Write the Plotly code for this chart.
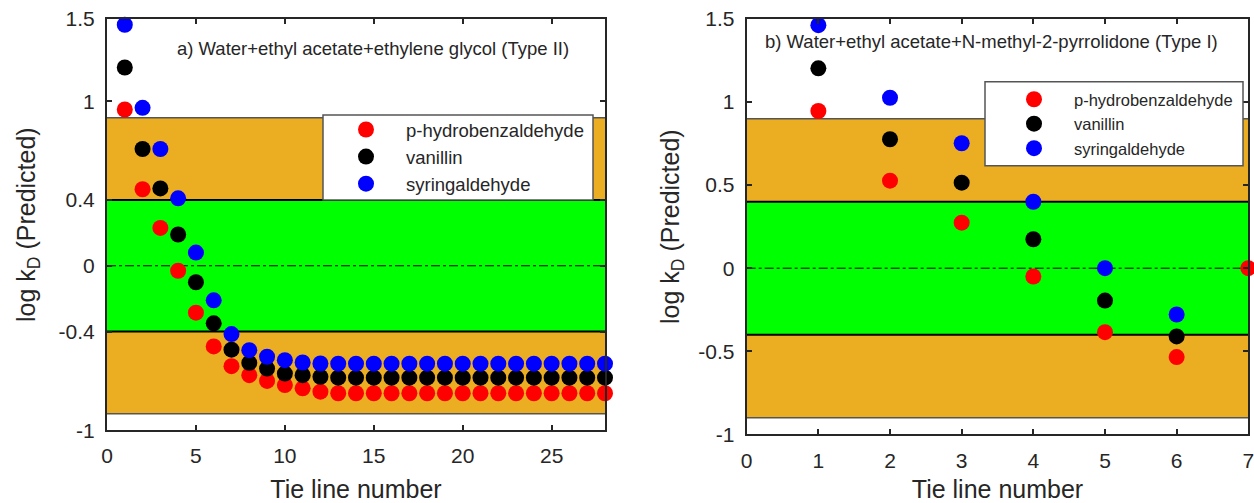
import plotly.graph_objects as go

# ---------------- data ----------------
series_names = ["p-hydrobenzaldehyde", "vanillin", "syringaldehyde"]
series_colors = ["#ff0000", "#000000", "#0000ff"]

tie_a = list(range(1, 29))
phb_a = [0.95, 0.465, 0.23, -0.03, -0.285, -0.49, -0.61, -0.665, -0.70, -0.725,
         -0.745, -0.765, -0.775, -0.775, -0.775, -0.775, -0.775, -0.775, -0.775, -0.775,
         -0.775, -0.775, -0.775, -0.775, -0.775, -0.775, -0.775, -0.775]
van_a = [1.205, 0.71, 0.47, 0.19, -0.10, -0.35, -0.51, -0.59, -0.625, -0.655,
         -0.665, -0.675, -0.68, -0.68, -0.68, -0.68, -0.68, -0.68, -0.68, -0.68,
         -0.68, -0.68, -0.68, -0.68, -0.68, -0.68, -0.68, -0.68]
syr_a = [1.465, 0.96, 0.71, 0.41, 0.08, -0.21, -0.415, -0.513, -0.553, -0.574,
         -0.588, -0.594, -0.595, -0.595, -0.595, -0.595, -0.595, -0.595, -0.595, -0.595,
         -0.595, -0.595, -0.595, -0.595, -0.595, -0.595, -0.595, -0.595]

tie_b_phb = [1, 2, 3, 4, 5, 6, 7]
phb_b = [0.946, 0.527, 0.274, -0.05, -0.385, -0.535, 0.0]
tie_b = [1, 2, 3, 4, 5, 6]
van_b = [1.203, 0.776, 0.515, 0.174, -0.195, -0.411]
syr_b = [1.463, 1.026, 0.752, 0.40, 0.0, -0.279]

title_a = "a) Water+ethyl acetate+ethylene glycol (Type II)"
title_b = "b) Water+ethyl acetate+N-methyl-2-pyrrolidone (Type I)"
xlabel = "Tie line number"
ylabel = "log k<sub>D</sub> (Predicted)"

ytick_a = [-1, -0.4, 0, 0.4, 1, 1.5]
ytick_b = [-1, -0.5, 0, 0.5, 1, 1.5]
xtick_a = [0, 5, 10, 15, 20, 25]
xtick_b = [0, 1, 2, 3, 4, 5, 6, 7]

# band limits
outer_hi, inner_hi, inner_lo, outer_lo = 0.9, 0.4, -0.4, -0.9

# ---------------- figure ----------------
W, H = 1254, 503
FONT = "Liberation Sans, Arial, sans-serif"
TXT = "#262626"
ORANGE = "#ebae22"
GREEN = "#00ff00"

fig = go.Figure()

def px_x(p):
    return p / W

def px_y(p):
    return 1 - p / H

groups = [
    ([phb_a, van_a, syr_a], [tie_a, tie_a, tie_a], "x", "y", "legend"),
    ([phb_b, van_b, syr_b], [tie_b_phb, tie_b, tie_b], "x2", "y2", "legend2"),
]
for vals, xs, xa, ya, lg in groups:
    for name, col, v, xv in zip(series_names, series_colors, vals, xs):
        fig.add_trace(go.Scatter(
            x=xv, y=v, mode="markers", name=name, legend=lg,
            marker=dict(color=col, size=16, line=dict(width=0)),
            cliponaxis=False, xaxis=xa, yaxis=ya,
        ))

shapes = []
for xr, yr in [("x", "y"), ("x2", "y2")]:
    dom = xr + " domain"
    shapes += [
        dict(type="rect", xref=dom, yref=yr, x0=0, x1=1, y0=inner_hi, y1=outer_hi,
             fillcolor=ORANGE, line=dict(width=0), layer="below"),
        dict(type="rect", xref=dom, yref=yr, x0=0, x1=1, y0=outer_lo, y1=inner_lo,
             fillcolor=ORANGE, line=dict(width=0), layer="below"),
        dict(type="rect", xref=dom, yref=yr, x0=0, x1=1, y0=inner_lo, y1=inner_hi,
             fillcolor=GREEN, line=dict(width=0), layer="below"),
        dict(type="line", xref=dom, yref=yr, x0=0, x1=1, y0=outer_hi, y1=outer_hi,
             line=dict(color="#555555", width=1.5), layer="below"),
        dict(type="line", xref=dom, yref=yr, x0=0, x1=1, y0=outer_lo, y1=outer_lo,
             line=dict(color="#555555", width=1.5), layer="below"),
        dict(type="line", xref=dom, yref=yr, x0=0, x1=1, y0=inner_hi, y1=inner_hi,
             line=dict(color="#000000", width=2), layer="below"),
        dict(type="line", xref=dom, yref=yr, x0=0, x1=1, y0=inner_lo, y1=inner_lo,
             line=dict(color="#000000", width=2), layer="below"),
        dict(type="line", xref=dom, yref=yr, x0=0, x1=1, y0=0, y1=0,
             line=dict(color="#000000", width=1, dash="dashdot"), layer="below"),
    ]
# legend frames (white boxes behind the legend entries)
for (x0, y0, x1, y1) in [(323, 115, 593, 200), (985, 81.7, 1243, 165.7)]:
    shapes.append(dict(type="rect", xref="paper", yref="paper",
                       x0=px_x(x0), x1=px_x(x1), y0=px_y(y1), y1=px_y(y0),
                       fillcolor="white", line=dict(color="#555555", width=1.5),
                       layer="above"))
fig.update_layout(shapes=shapes)

axis_common = dict(
    showline=True, linecolor=TXT, linewidth=2, mirror="ticks",
    ticks="inside", ticklen=5, tickwidth=1.5, tickcolor=TXT,
    showgrid=False, zeroline=False, ticklabeloverflow="allow", automargin=False,
    tickfont=dict(family=FONT, size=21, color=TXT),
)

legend_common = dict(
    xanchor="left", yanchor="top", bgcolor="rgba(0,0,0,0)", borderwidth=0,
    itemwidth=70, tracegroupgap=0,
)

fig.update_layout(
    width=W, height=H,
    margin=dict(l=0, r=0, t=0, b=0, autoexpand=False),
    paper_bgcolor="white", plot_bgcolor="white",
    font=dict(family=FONT, color=TXT),
    xaxis=dict(domain=[px_x(107), px_x(605)], range=[0, 28], anchor="y",
               tickvals=xtick_a, ticklabelstandoff=5,
               title=dict(text=xlabel, font=dict(size=25, color=TXT), standoff=22),
               **axis_common),
    yaxis=dict(domain=[px_y(430.3), px_y(19)], range=[-1, 1.5], anchor="x",
               tickvals=ytick_a, ticktext=[str(v) for v in ytick_a], ticklabelstandoff=6,
               title=dict(text=ylabel, font=dict(size=25, color=TXT), standoff=16),
               **axis_common),
    xaxis2=dict(domain=[px_x(746.7), px_x(1248.3)], range=[0, 7], anchor="y2",
                tickvals=xtick_b, ticklabelstandoff=6,
                title=dict(text=xlabel, font=dict(size=25, color=TXT), standoff=25),
                **axis_common),
    yaxis2=dict(domain=[px_y(434.3), px_y(19)], range=[-1, 1.5], anchor="x2",
                tickvals=ytick_b, ticktext=[str(v) for v in ytick_b], ticklabelstandoff=6,
                title=dict(text=ylabel, font=dict(size=25, color=TXT), standoff=12),
                **axis_common),
    legend=dict(x=px_x(326), y=px_y(111),
                font=dict(family=FONT, size=18.5, color=TXT), **legend_common),
    legend2=dict(x=px_x(994), y=px_y(82),
                 font=dict(family=FONT, size=16.5, color=TXT), **legend_common),
    annotations=[
        dict(text=title_a, xref="paper", yref="paper", x=px_x(175), y=px_y(48),
             xanchor="left", yanchor="middle", showarrow=False,
             font=dict(family=FONT, size=18.5, color=TXT)),
        dict(text=title_b, xref="paper", yref="paper", x=px_x(763), y=px_y(42),
             xanchor="left", yanchor="middle", showarrow=False,
             font=dict(family=FONT, size=18.5, color=TXT)),
    ],
)

fig.write_html("out.html")
